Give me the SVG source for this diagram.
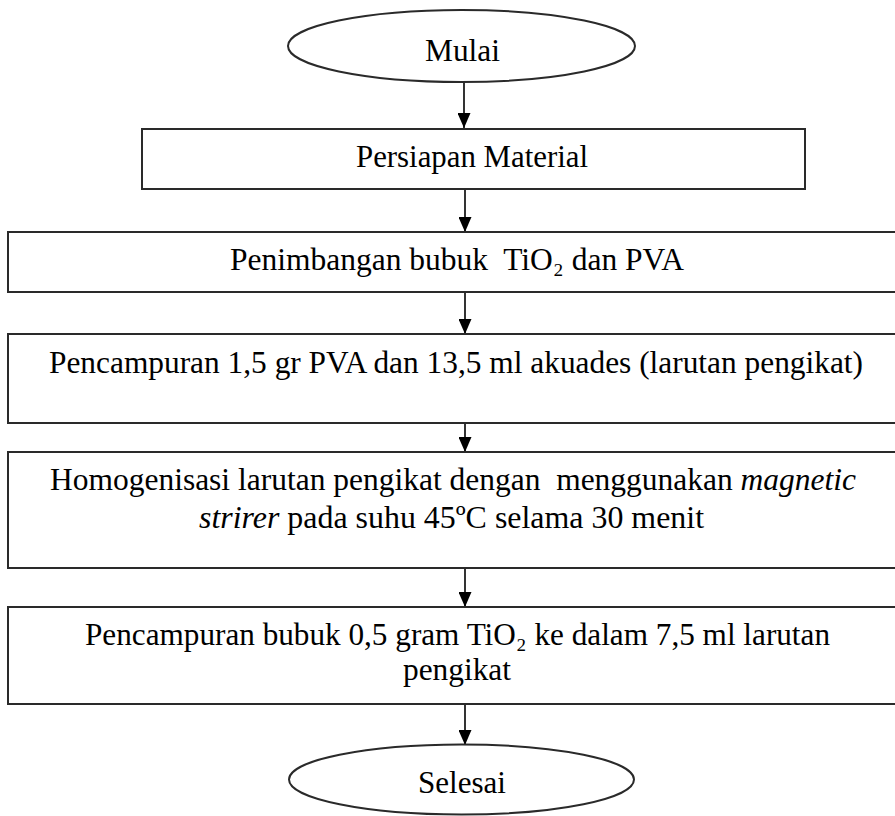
<svg xmlns="http://www.w3.org/2000/svg" width="895" height="816" viewBox="0 0 895 816">
<defs>
<marker id="ah" markerWidth="15" markerHeight="13" refX="15" refY="6.5" orient="auto" markerUnits="userSpaceOnUse">
<path d="M0,0 L15,6.5 L0,13 Z" fill="#000"/>
</marker>
<style>
.shape{fill:#fff;stroke:#2a2a2a;stroke-width:2}
.t{font-family:"Liberation Serif","Times New Roman","DejaVu Serif",serif;font-size:32px;fill:#000}
.c{stroke:#000;stroke-width:1.6;fill:none}
</style>
</defs>
<rect width="895" height="816" fill="#fff"/>
<g id="connectors">
<line class="c" x1="464" y1="82" x2="464" y2="128" marker-end="url(#ah)"/>
<line class="c" x1="465" y1="189" x2="465" y2="232" marker-end="url(#ah)"/>
<line class="c" x1="465" y1="292" x2="465" y2="334" marker-end="url(#ah)"/>
<line class="c" x1="465" y1="423" x2="465" y2="452" marker-end="url(#ah)"/>
<line class="c" x1="465" y1="568" x2="465" y2="607" marker-end="url(#ah)"/>
<line class="c" x1="465" y1="704" x2="465" y2="745" marker-end="url(#ah)"/>
</g>
<g id="mulai">
<ellipse class="shape" cx="461.5" cy="46" rx="173.5" ry="36"/>
<text class="t" x="425" y="61" textLength="75" lengthAdjust="spacingAndGlyphs">Mulai</text>
</g>
<g id="persiapan">
<rect class="shape" x="142" y="129" width="663" height="60"/>
<text class="t" x="356" y="167" textLength="232" lengthAdjust="spacingAndGlyphs">Persiapan Material</text>
</g>
<g id="penimbangan">
<rect class="shape" x="8" y="232" width="900" height="60"/>
<text class="t" x="230" y="270" textLength="454" lengthAdjust="spacingAndGlyphs" xml:space="preserve">Penimbangan bubuk  TiO₂ dan PVA</text>
</g>
<g id="pencampuran1">
<rect class="shape" x="8" y="334" width="900" height="89"/>
<text class="t" x="49" y="373" textLength="814" lengthAdjust="spacingAndGlyphs">Pencampuran 1,5 gr PVA dan 13,5 ml akuades (larutan pengikat)</text>
</g>
<g id="homogenisasi">
<rect class="shape" x="8" y="452" width="900" height="116"/>
<text class="t" x="50" y="490" textLength="806" lengthAdjust="spacingAndGlyphs" xml:space="preserve">Homogenisasi larutan pengikat dengan  menggunakan <tspan font-style="italic">magnetic</tspan></text>
<text class="t" x="199" y="528" textLength="505" lengthAdjust="spacingAndGlyphs"><tspan font-style="italic">strirer</tspan> pada suhu 45ºC selama 30 menit</text>
</g>
<g id="pencampuran2">
<rect class="shape" x="8" y="607" width="900" height="97"/>
<text class="t" x="85" y="645" textLength="745" lengthAdjust="spacingAndGlyphs">Pencampuran bubuk 0,5 gram TiO₂ ke dalam 7,5 ml larutan</text>
<text class="t" x="403" y="680" textLength="108" lengthAdjust="spacingAndGlyphs">pengikat</text>
</g>
<g id="selesai">
<ellipse class="shape" cx="461.5" cy="779.5" rx="172.5" ry="35"/>
<text class="t" x="418" y="793" textLength="88" lengthAdjust="spacingAndGlyphs">Selesai</text>
</g>
</svg>
